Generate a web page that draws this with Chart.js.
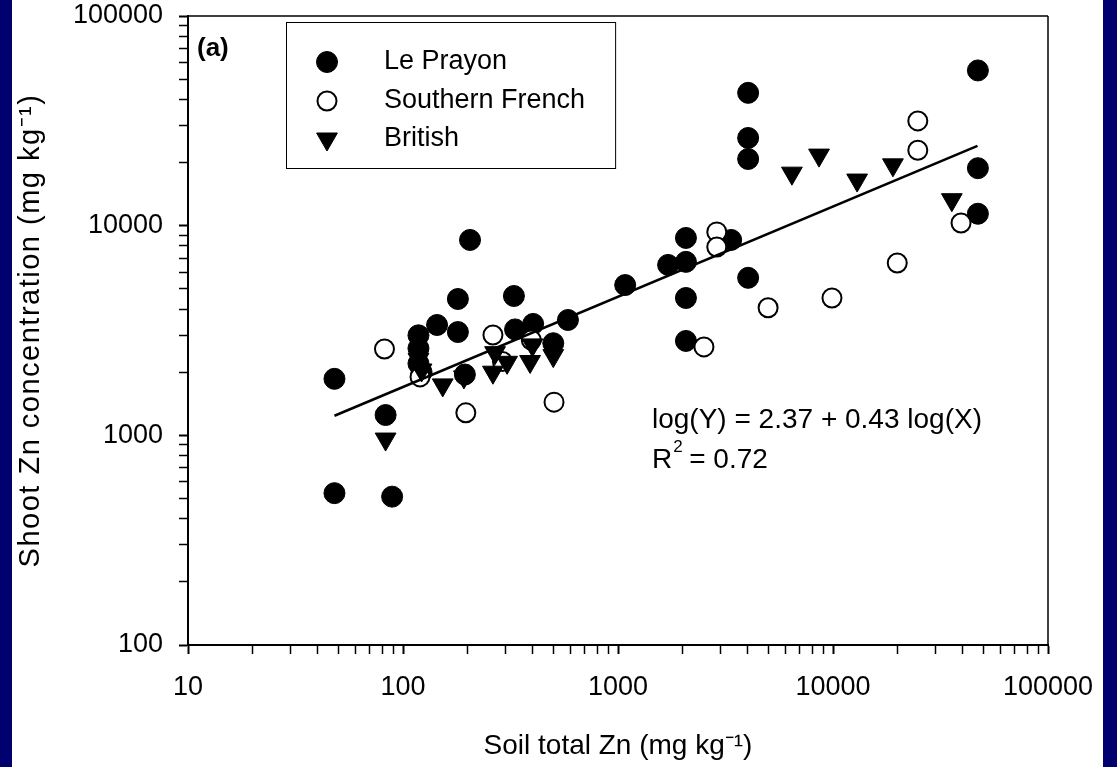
<!DOCTYPE html>
<html>
<head>
<meta charset="utf-8">
<style>
  html, body { margin: 0; padding: 0; background: #00006e; }
  #c { display: block; }
</style>
<script src="https://cdn.jsdelivr.net/npm/chart.js@4.4.0/dist/chart.umd.min.js"></script>
</head>
<body>
<canvas id="c" width="1117" height="767"></canvas>
<script>
// ---- data ----
const lePrayonX = [48, 48, 89, 83, 118, 118, 118, 122, 144, 180, 180, 194, 205, 328, 332, 403, 500, 585, 1080, 1710, 2070, 2070, 2070, 2070, 3360, 4030, 4030, 4030, 4030, 47200, 47200, 47200];
const lePrayonY = [1860, 530, 510, 1250, 3000, 2600, 2200, 2000, 3360, 4470, 3110, 1950, 8550, 4620, 3200, 3400, 2750, 3550, 5210, 6500, 8740, 6720, 4520, 2820, 8550, 43000, 26200, 20800, 5640, 55000, 18800, 11400];

const southernFrenchX = [82, 120, 196, 262, 290, 395, 504, 2510, 2880, 2880, 4990, 9890, 19900, 24800, 24800, 39400];
const southernFrenchY = [2580, 1900, 1280, 3010, 2250, 2850, 1440, 2640, 9340, 7910, 4060, 4520, 6640, 31600, 22900, 10300];

const britishX = [83, 118, 122, 153, 192, 262, 268, 305, 390, 400, 500, 6440, 8610, 12950, 19000, 35700];
const britishY = [960, 2300, 2050, 1740, 1900, 2000, 2480, 2230, 2250, 2700, 2400, 17800, 21700, 16500, 19500, 13300];

const fitX = [48, 47000];
const fitY = [1240, 24000];

const seriesLabels = ['Le Prayon', 'Southern French', 'British'];
const xTickDecades = [10, 100, 1000, 10000, 100000];
const yTickDecades = [100, 1000, 10000, 100000];
const equationText = 'log(Y) = 2.37 + 0.43 log(X)';
const r2Text = '= 0.72';
const panelLabel = '(a)';

// ---- helpers ----
const pts = (xs, ys) => xs.map((x, i) => ({ x: x, y: ys[i] }));
const FONT = '"Liberation Sans", Arial, Helvetica, sans-serif';

function isPow10(v) {
  const l = Math.log10(v);
  return Math.abs(l - Math.round(l)) < 1e-9;
}
function logTicks(decades) {
  const out = [];
  for (let d = 0; d < decades.length; d++) {
    const base = decades[d];
    if (d === decades.length - 1) { out.push({ value: base, major: true }); break; }
    for (let m = 1; m <= 9; m++) out.push({ value: base * m, major: m === 1 });
  }
  return out;
}

const bgPlugin = {
  id: 'bg',
  beforeDraw(chart) {
    const ctx = chart.ctx;
    ctx.save();
    ctx.fillStyle = '#00006e';
    ctx.fillRect(0, 0, chart.width, chart.height);
    ctx.fillStyle = '#ffffff';
    ctx.fillRect(12, 0, 1091, chart.height);
    ctx.restore();
  },
  afterLayout(chart) {
    // slightly spaced y-axis title, as in the reference
    const s = chart.scales.y;
    if (s && !s._spaced) {
      const orig = s.drawTitle.bind(s);
      s.drawTitle = function () {
        const ctx = this.ctx;
        const prev = ctx.letterSpacing;
        ctx.letterSpacing = '1.5px';
        orig();
        ctx.letterSpacing = prev || '0px';
      };
      s._spaced = true;
    }
  }
};

const decorPlugin = {
  id: 'decor',
  afterDraw(chart) {
    const ctx = chart.ctx;
    const a = chart.chartArea;
    ctx.save();
    // top & right frame lines
    ctx.strokeStyle = '#000';
    ctx.lineWidth = 1.5;
    ctx.beginPath();
    ctx.moveTo(a.left, a.top); ctx.lineTo(a.right, a.top);
    ctx.moveTo(a.right, a.top); ctx.lineTo(a.right, a.bottom);
    ctx.stroke();

    // panel label
    ctx.fillStyle = '#000';
    ctx.font = 'bold 26px ' + FONT;
    ctx.textBaseline = 'middle';
    ctx.textAlign = 'left';
    ctx.fillText(panelLabel, a.left + 9, a.top + 33);

    // legend
    const lx = a.left + 98, ly = a.top + 6;
    const rowY = [40, 79, 117];
    ctx.font = '27px ' + FONT;
    let maxW = 0;
    seriesLabels.forEach(t => { maxW = Math.max(maxW, ctx.measureText(t).width); });
    const textX = lx + 98;
    const boxW = textX - lx + maxW + 30;
    const boxH = 146;
    ctx.lineWidth = 1;
    ctx.strokeStyle = '#000';
    ctx.strokeRect(lx + 0.5, ly + 0.5, boxW, boxH);
    chart.data.datasets.slice(0, 3).forEach((ds, i) => {
      const cy = ly + rowY[i];
      ctx.save();
      ctx.fillStyle = ds.pointBackgroundColor;
      ctx.strokeStyle = ds.pointBorderColor;
      ctx.lineWidth = ds.pointBorderWidth;
      Chart.helpers.drawPoint(ctx, {
        pointStyle: ds.pointStyle,
        rotation: ds.pointRotation || 0,
        radius: ds.pointRadius,
        borderWidth: ds.pointBorderWidth
      }, lx + 41, cy);
      ctx.restore();
      ctx.fillStyle = '#000';
      ctx.fillText(ds.label, textX, cy);
    });

    // equation
    const ex = 652;
    ctx.font = '28px ' + FONT;
    ctx.fillText(equationText, ex, 420);
    ctx.fillText('R', ex, 460);
    const rw = ctx.measureText('R').width;
    ctx.font = '17px ' + FONT;
    ctx.fillText('2', ex + rw + 1, 447);
    ctx.font = '28px ' + FONT;
    ctx.fillText(r2Text, ex + rw + 17, 460);
    ctx.restore();
  }
};

const tickGrid = {
  display: true,
  drawOnChartArea: false,
  drawTicks: true,
  tickLength: 9,
  tickColor: '#000',
  tickWidth: (c) => (c.tick && c.tick.major ? 2 : 1.5)
};

const chart = new Chart(document.getElementById('c'), {
  type: 'scatter',
  data: {
    datasets: [
      {
        label: seriesLabels[0],
        data: pts(lePrayonX, lePrayonY),
        pointStyle: 'circle',
        pointRadius: 10.5,
        pointBackgroundColor: '#000',
        pointBorderColor: '#000',
        pointBorderWidth: 1,
        order: 3
      },
      {
        label: seriesLabels[1],
        data: pts(southernFrenchX, southernFrenchY),
        pointStyle: 'circle',
        pointRadius: 9.5,
        pointBackgroundColor: '#fff',
        pointBorderColor: '#000',
        pointBorderWidth: 2,
        order: 2
      },
      {
        label: seriesLabels[2],
        data: pts(britishX, britishY),
        pointStyle: 'triangle',
        pointRotation: 180,
        pointRadius: 12,
        pointBackgroundColor: '#000',
        pointBorderColor: '#000',
        pointBorderWidth: 1,
        order: 1
      },
      {
        type: 'line',
        label: 'fit',
        data: pts(fitX, fitY),
        borderColor: '#000',
        borderWidth: 2.5,
        pointRadius: 0,
        showLine: true,
        fill: false,
        order: 0
      }
    ]
  },
  options: {
    responsive: false,
    animation: false,
    devicePixelRatio: 1,
    layout: { padding: { left: 0, top: 16, right: 69, bottom: 0 } },
    plugins: { legend: { display: false }, tooltip: { enabled: false } },
    scales: {
      x: {
        type: 'logarithmic',
        min: 10,
        max: 100000,
        afterBuildTicks: (s) => { s.ticks = logTicks(xTickDecades); },
        afterFit: (s) => { s.height = 122; s.paddingLeft = 0; s.paddingRight = 0; },
        border: { display: true, color: '#000', width: 2 },
        grid: tickGrid,
        ticks: {
          autoSkip: false,
          maxRotation: 0,
          padding: 17,
          color: '#000',
          font: { family: FONT, size: 27 },
          callback: (v) => (isPow10(v) ? String(Math.round(v)) : '')
        },
        title: {
          display: true,
          text: ['Soil total Zn (mg kg\u207B\u00B9)'],
          color: '#000',
          font: { family: FONT, size: 28 },
          padding: { top: 0, bottom: 4 }
        }
      },
      y: {
        type: 'logarithmic',
        min: 100,
        max: 100000,
        afterBuildTicks: (s) => { s.ticks = logTicks(yTickDecades); },
        afterFit: (s) => { s.width = 188; s.paddingTop = 0; s.paddingBottom = 0; },
        border: { display: true, color: '#000', width: 2 },
        grid: tickGrid,
        ticks: {
          autoSkip: false,
          padding: 16,
          color: '#000',
          font: { family: FONT, size: 27 },
          callback: (v) => (isPow10(v) ? String(Math.round(v)) : '')
        },
        title: {
          display: true,
          text: 'Shoot Zn concentration (mg kg\u207B\u00B9)',
          color: '#000',
          font: { family: FONT, size: 29 },
          padding: { top: 14, bottom: 0 }
        }
      }
    }
  },
  plugins: [bgPlugin, decorPlugin]
});
</script>
</body>
</html>
